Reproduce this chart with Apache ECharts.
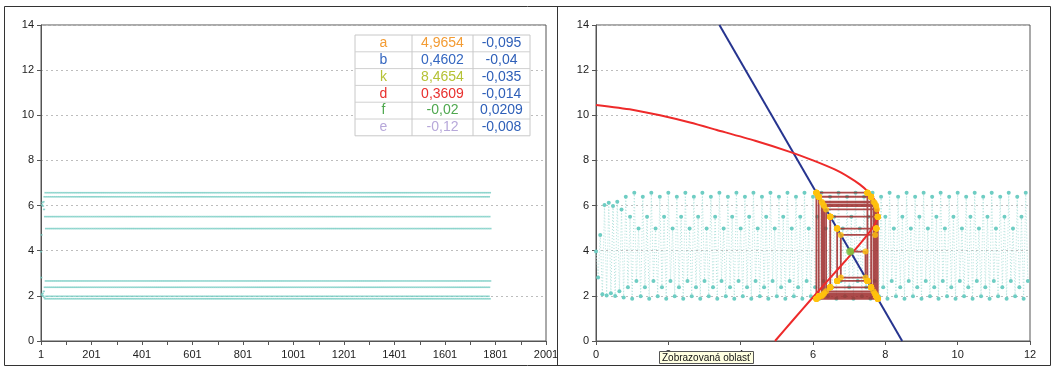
<!DOCTYPE html>
<html><head><meta charset="utf-8">
<script src="https://cdn.jsdelivr.net/npm/echarts/dist/echarts.min.js"></script>
<style>html,body{margin:0;padding:0;background:#fff}#c{width:1055px;height:369px}</style>
</head><body><div id="c"></div>
<script>
// ---- data ----
const paramNames   = ['a', 'b', 'k', 'd', 'f', 'e'];
const paramValues  = ['4,9654', '0,4602', '8,4654', '0,3609', '-0,02', '-0,12'];
const paramChanges = ['-0,095', '-0,04', '-0,035', '-0,014', '0,0209', '-0,008'];
const paramColors  = ['#F39C34', '#3567C0', '#B5C236', '#E8302E', '#4FA84F', '#B7A8DA'];
const demandK = 8.4654, demandD = 0.3609;          // blue line: q = k - d*p
const transientPrices = [3.96, 2.81, 4.70, 2.07, 6.03, 2.02, 6.13, 2.11, 5.98, 1.99, 6.17, 2.20, 5.83, 1.93];
const cyclePrices = [6.39, 2.38, 5.51, 1.87, 6.57, 2.66, 4.98, 1.98];   // period-8 orbit
const leftCount = 1781;      // iterations shown in the left chart
const rightCount = 204;      // iterations shown as dots in the right chart
const rightStep = 1 / 17;    // x spacing of dots in the right chart
const supplyCurve = [[4.95,0],[5.45,0.93],[5.95,1.85],[6.45,2.75],[6.95,3.65],[7.3,4.3],[7.55,4.8],[7.72,5.2],[7.8,5.6],[7.78,5.95],[7.68,6.3],[7.52,6.62],[7.3,6.93],[7.0,7.25],[6.6,7.6],[6.0,8.0],[5.36,8.38],[4.4,8.87],[3.34,9.35],[2.6,9.68],[1.77,10.0],[1.0,10.25],[0,10.46]];
const fixedPoint = [7.03, 3.96];
const leftXLabels = ['1','201','401','601','801','1001','1201','1401','1601','1801','2001'];
const yLabels = ['0','2','4','6','8','10','12','14'];
const rightXLabels = ['0','2','4','6','8','10','12'];

// ---- build series ----
function price(n){ return n < transientPrices.length ? transientPrices[n] : cyclePrices[(n - transientPrices.length) % cyclePrices.length]; }
function qty(p){ return demandK - demandD * p; }
const leftData = []; for (let n = 0; n < leftCount; n++) leftData.push([n, price(n)]);
const rightData = []; for (let n = 0; n < rightCount; n++) rightData.push([n * rightStep, price(n)]);
const cobweb = [[qty(price(0)), price(0)]];
for (let n = 0; n < 80; n++) { cobweb.push([qty(price(n+1)), price(n)]); cobweb.push([qty(price(n+1)), price(n+1)]); }
const demandLine = [[qty(14), 14], [qty(0), 0]];

const FONT = 'Liberation Sans, Arial, sans-serif';
const axisCommon = {
  axisLine: {show: true, lineStyle: {color: '#555', width: 1}},
  axisTick: {show: true, length: 4, lineStyle: {color: '#555'}},
  axisLabel: {color: '#222', fontSize: 11, fontFamily: FONT},
};
const yAx = (gi) => Object.assign({}, axisCommon, {
  type: 'value', gridIndex: gi, min: 0, max: 14, interval: 2,
  axisLabel: Object.assign({}, axisCommon.axisLabel, {margin: 7, formatter: v => yLabels[v/2]}),
  splitLine: {show: true, lineStyle: {color: '#BDBDBD', type: [2, 3], width: 1}}
});

// table graphics
const tbl = []; const tx = 355, ty = 35, cw = [57, 61, 57], rh = 16.8;
tbl.push({type:'rect', shape:{x:tx, y:ty, width:cw[0]+cw[1]+cw[2], height:rh*6}, style:{fill:'#fff', stroke:'#C8C8C8', lineWidth:1}, z:50});
for (let r = 1; r < 6; r++) tbl.push({type:'line', shape:{x1:tx, y1:ty+r*rh, x2:tx+cw[0]+cw[1]+cw[2], y2:ty+r*rh}, style:{stroke:'#D0D0D0', lineWidth:1}, z:51});
tbl.push({type:'line', shape:{x1:tx+cw[0], y1:ty, x2:tx+cw[0], y2:ty+6*rh}, style:{stroke:'#C8C8C8', lineWidth:1}, z:51});
tbl.push({type:'line', shape:{x1:tx+cw[0]+cw[1], y1:ty, x2:tx+cw[0]+cw[1], y2:ty+6*rh}, style:{stroke:'#C8C8C8', lineWidth:1}, z:51});
for (let r = 0; r < 6; r++) {
  const cy = ty + r*rh + rh/2;
  tbl.push({type:'text', x: tx + cw[0]/2, y: cy, style:{text: paramNames[r], fill: paramColors[r], font: '14px ' + FONT, align:'center', verticalAlign:'middle'}, z:52});
  tbl.push({type:'text', x: tx + cw[0] + cw[1]/2, y: cy, style:{text: paramValues[r], fill: paramColors[r], font: '14px ' + FONT, align:'center', verticalAlign:'middle'}, z:52});
  tbl.push({type:'text', x: tx + cw[0] + cw[1] + cw[2]/2, y: cy, style:{text: paramChanges[r], fill: '#2E5FB8', font: '14px ' + FONT, align:'center', verticalAlign:'middle'}, z:52});
}

const chart = echarts.init(document.getElementById('c'), null, {renderer: 'canvas'});
chart.setOption({
  animation: false,
  backgroundColor: '#fff',
  grid: [
    {left: 41, top: 25, width: 505, height: 316, show: true, borderColor: '#555', borderWidth: 1, containLabel: false},
    {left: 596, top: 25, width: 434, height: 316, show: true, borderColor: '#555', borderWidth: 1, containLabel: false}
  ],
  xAxis: [
    Object.assign({}, axisCommon, {type: 'value', gridIndex: 0, min: 0, max: 2000, interval: 100,
      axisLabel: Object.assign({}, axisCommon.axisLabel, {margin: 8, formatter: v => (v % 200 === 0 ? leftXLabels[v/200] : '')}),
      splitLine: {show: false}}),
    Object.assign({}, axisCommon, {type: 'value', gridIndex: 1, min: 0, max: 12, interval: 2,
      axisLabel: Object.assign({}, axisCommon.axisLabel, {margin: 8, formatter: v => rightXLabels[v/2]}),
      splitLine: {show: false}})
  ],
  yAxis: [yAx(0), yAx(1)],
  series: [
    {type: 'scatter', xAxisIndex: 0, yAxisIndex: 0, data: leftData, symbol: 'rect', symbolSize: [2.2, 1.6],
      itemStyle: {color: '#74CCC2'}, silent: true, z: 2},
    {type: 'line', xAxisIndex: 1, yAxisIndex: 1, data: rightData, symbol: 'circle', symbolSize: 4,
      itemStyle: {color: '#6ECDC3'}, lineStyle: {color: '#B2E3DD', width: 1, type: [1, 2]}, silent: true, z: 2},
    {type: 'line', xAxisIndex: 1, yAxisIndex: 1, data: cobweb, showSymbol: false,
      lineStyle: {color: '#9E2A2A', width: 1.8, opacity: 0.85}, silent: true, z: 3},
    {type: 'line', xAxisIndex: 1, yAxisIndex: 1, data: demandLine, showSymbol: false,
      lineStyle: {color: '#26348F', width: 2}, silent: true, z: 4},
    {type: 'line', xAxisIndex: 1, yAxisIndex: 1, data: supplyCurve, showSymbol: false, smooth: 0.25,
      lineStyle: {color: '#EE2A2A', width: 2}, silent: true, z: 4},
    {type: 'scatter', xAxisIndex: 1, yAxisIndex: 1, data: cobweb, symbol: 'circle', symbolSize: 6,
      itemStyle: {color: '#FFC20E'}, silent: true, z: 5},
    {type: 'scatter', xAxisIndex: 1, yAxisIndex: 1, data: [fixedPoint], symbol: 'circle', symbolSize: 8,
      itemStyle: {color: '#6DBE45'}, silent: true, z: 6}
  ],
  graphic: tbl.concat([
    {type: 'rect', shape: {x: 4.5, y: 6.5, width: 1046, height: 359}, style: {fill: 'none', stroke: '#333', lineWidth: 1}, z: 60},
    {type: 'line', shape: {x1: 557.5, y1: 6.5, x2: 557.5, y2: 365.5}, style: {stroke: '#333', lineWidth: 1}, z: 60},
    {type: 'rect', shape: {x: 659.5, y: 351.5, width: 94, height: 12}, style: {fill: '#FFFFE1', stroke: '#555', lineWidth: 1}, z: 70},
    {type: 'text', x: 662, y: 357.8, style: {text: 'Zobrazovaná oblasť', fill: '#111', font: '10px ' + FONT, verticalAlign: 'middle'}, z: 71}
  ])
});
</script></body></html>
